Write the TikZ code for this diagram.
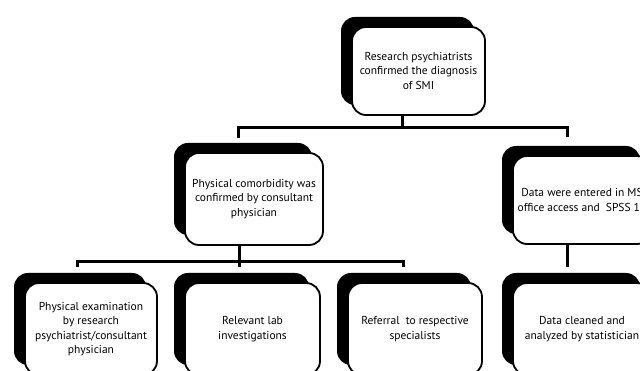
\documentclass[tikz,border=0pt]{standalone}
\usepackage{fontspec}
\setmainfont{PT Sans}
\usetikzlibrary{shadows}
\begin{document}
\begin{tikzpicture}[x=1pt,y=-1pt,
  box/.style={draw=black, line width=1.8pt, fill=white, rounded corners=14pt,
    align=center, inner sep=0pt, font=\fontsize{11.5}{14.5}\selectfont,
    drop shadow={shadow xshift=-11pt, shadow yshift=10pt, fill=black, opacity=1}},
  conn/.style={line width=3pt}]
\useasboundingbox (0,0) rectangle (640,371);
\clip (0,0) rectangle (640,371);
\fill[white] (0,0) rectangle (640,371);

\node[box, minimum width=133pt, minimum height=88pt] (top) at (418.5,71)
  {Research psychiatrists\\confirmed the diagnosis\\of SMI};
\node[box, minimum width=138pt, minimum height=92pt] (midL) at (254,199)
  {Physical comorbidity was\\confirmed by consultant\\physician};
\node[box, minimum width=138pt, minimum height=88pt] (midR) at (582,200)
  {Data were entered in MS\\office access and\ \ SPSS 18};
\node[box, minimum width=132pt, minimum height=92pt] (b1) at (91,329)
  {Physical examination\\by research\\psychiatrist/consultant\\physician};
\node[box, minimum width=135pt, minimum height=92pt] (b2) at (252.5,329)
  {Relevant lab\\investigations};
\node[box, minimum width=134pt, minimum height=92pt] (b3) at (415,329)
  {Referral\ \ to respective\\specialists};
\node[box, minimum width=138pt, minimum height=92pt] (b4) at (582,329)
  {Data cleaned and\\analyzed by statistician};

\coordinate (j1) at (402,128);
\coordinate (aL) at (238,138);
\coordinate (aR) at (567,137);
\coordinate (j2) at (239,262);
\coordinate (bL) at (77,267);
\coordinate (bM) at (239,267);
\coordinate (bR) at (403,267);
\coordinate (c4) at (567,267);

\draw[conn] (top.south -| j1) -- (j1);
\draw[conn] (aL) -- (aL |- j1) -- (aR |- j1) -- (aR);
\draw[conn] (midL.south -| bM) -- (bM);
\draw[conn] (bL) -- (bL |- j2) -- (bR |- j2) -- (bR);
\draw[conn] (midR.south -| c4) -- (c4);
\end{tikzpicture}
\end{document}
